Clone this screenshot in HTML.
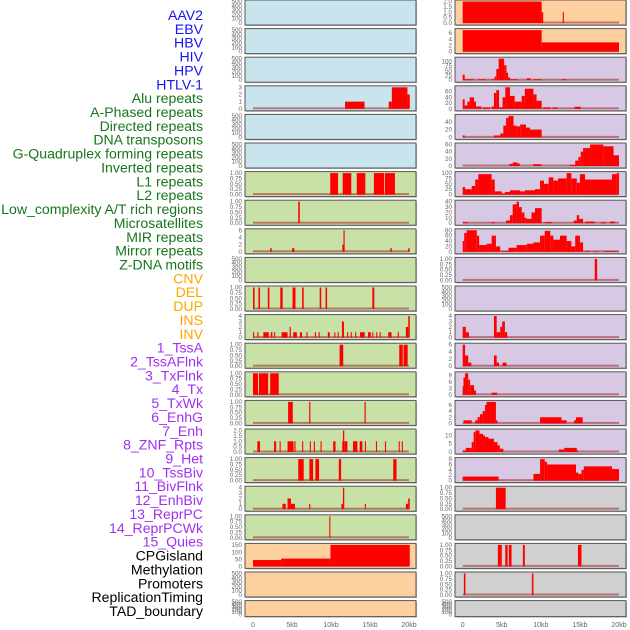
<!DOCTYPE html>
<html><head><meta charset="utf-8">
<style>
html,body{margin:0;padding:0;background:#fff;}
svg{display:block;}
text{font-family:"Liberation Sans",sans-serif;}
</style></head>
<body>
<svg id="chart" width="630" height="630" viewBox="0 0 630 630" xmlns="http://www.w3.org/2000/svg">
<g id="labels"></g>
<g id="panels"></g>
<g id="xaxes"></g>
</svg>
<script>
// ---- label data ----
const labelNames = ["AAV2","EBV","HBV","HIV","HPV","HTLV-1","Alu repeats","A-Phased repeats","Directed repeats","DNA transposons","G-Quadruplex forming repeats","Inverted repeats","L1 repeats","L2 repeats","Low_complexity A/T rich regions","Microsatellites","MIR repeats","Mirror repeats","Z-DNA motifs","CNV","DEL","DUP","INS","INV","1_TssA","2_TssAFlnk","3_TxFlnk","4_Tx","5_TxWk","6_EnhG","7_Enh","8_ZNF_Rpts","9_Het","10_TssBiv","11_BivFlnk","12_EnhBiv","13_ReprPC","14_ReprPCWk","15_Quies","CPGisland","Methylation","Promoters","ReplicationTiming","TAD_boundary"];
const labelGroups = [0,0,0,0,0,0,1,1,1,1,1,1,1,1,1,1,1,1,1,2,2,2,2,2,3,3,3,3,3,3,3,3,3,3,3,3,3,3,3,4,4,4,4,4];
const groupColors = ["#1515f0","#17761a","#ffa500","#a030f0","#000000"];

// ---- tick label sets ----
const T500 = ["0","100","200","300","400","500"];
const T01 = ["0.00","0.25","0.50","0.75","1.00"];
const T02 = ["0.0","0.5","1.0","1.5","2.0"];
const T3 = ["0","1","2","3"];
const T4 = ["0","1","2","3","4"];
const T6 = ["0","2","4","6"];
const T8 = ["0","2","4","6","8"];
const T150 = ["0","50","100","150"];
const T100 = ["0","25","50","75","100"];
const T60 = ["0","20","40","60"];
const T40 = ["0","20","40"];
const T40b = ["0","10","20","30","40"];
const T80 = ["0","20","40","60","80"];
const T9 = ["0","3","6","9"];
const T10 = ["0","5","10"];

// ---- segment data: [startKb, endKb, value] ----
const L4 = [[11.8,14.3,1],[17.4,17.8,1],[17.8,19.8,3],[19.8,20.1,2]];
const L7 = [[9.9,10.9,1],[11.5,12.6,1],[13.3,14.4,1],[15.5,16.8,1],[16.9,18.2,1]];
const L8 = [[5.8,6.0,1]];
const L9 = [[2.2,2.4,1],[5.0,5.3,1],[11.45,11.6,2],[11.6,11.75,6],[17.6,17.8,1],[19.9,20.1,1]];
const L11 = [[0,0.2,1],[0.7,0.9,1],[1.9,2.1,1],[3.5,3.8,1],[5.07,5.45,1],[6.3,6.5,1],[8.55,8.75,1],[9.3,9.5,1],[15.3,15.55,1]];
const L12 = [[0,0.15,1],[0.55,0.7,1],[1.33,2.02,1],[2.28,2.49,1],[2.7,2.85,1],[3.66,4.43,1],[4.7,4.85,2],[5.16,5.63,1],[6.02,6.28,1],[6.85,7.0,1],[7.93,8.08,1],[8.4,8.55,1],[9.59,9.85,1],[10.42,10.56,1],[10.85,11.0,1],[11.4,11.66,3],[12.06,12.2,1],[12.53,12.67,1],[13.1,13.24,1],[13.72,14.32,1],[14.75,15.1,1],[15.28,15.42,1],[15.8,15.94,1],[16.23,16.37,1],[17.33,17.76,1],[18.55,18.7,1],[19.6,19.9,2],[19.9,20.1,4]];
const L13 = [[11.1,11.57,1],[18.75,19.2,1],[19.3,19.83,1]];
const L14 = [[0,0.65,1],[0.77,1.94,1],[2.2,3.3,1]];
const L15 = [[4.5,5.1,1],[7.2,7.35,1],[14.3,14.45,1]];
const L16 = [[0.56,0.9,1],[2.7,2.97,1],[3.41,3.55,1],[4.43,5.2,1],[5.31,5.45,1],[6.3,6.44,1],[7.28,7.42,1],[7.8,7.94,1],[8.66,8.8,1],[10.28,10.58,1],[11.44,11.53,1],[11.53,11.7,2],[11.7,12.1,1],[12.82,13.38,1],[13.68,14.02,1],[14.34,14.48,1],[15.76,15.9,1],[16.92,17.06,1],[18.68,18.82,1],[19.07,19.21,1]];
const L17 = [[5.8,6.5,1],[7.23,7.7,1],[8.0,8.47,1],[11.0,11.3,1],[17.98,18.4,1]];
const L18 = [[3.78,4.2,1],[4.43,4.86,2],[4.86,5.38,1],[7.2,7.35,1],[11.33,11.53,1],[11.53,11.7,4],[14.34,14.48,1],[19.6,19.9,1],[19.9,20.1,2]];
const L19 = [[9.78,9.92,1]];
const L20 = [[0,3.6,45],[3.6,9.93,55],[9.93,20.1,152]];

const R1 = [[0,10.1,2],[10.1,10.3,1],[12.8,12.95,1]];
const R2 = [[0,10.1,7],[10.1,20.0,3]];
const R3 = [[0,0.25,30],[0.25,1.4,5],[2,3,5],[3.7,4.1,5],[4.1,4.3,20],[4.3,4.6,60],[4.6,5.3,115],[5.3,5.6,80],[5.6,5.8,40],[5.8,6.05,15],[6.05,7.05,5],[8.2,8.7,10],[9.1,10.1,5],[12.7,13.3,5]];
const R4 = [[0,0.25,33],[0.25,0.6,12],[0.6,0.9,25],[0.9,1.45,40],[1.45,1.7,25],[1.7,2.4,8],[2.6,3.5,5],[3.7,4.0,8],[4.0,4.3,55],[4.3,4.65,65],[4.65,5.1,5],[5.1,5.45,40],[5.45,6.05,75],[6.05,6.65,45],[6.65,7.55,25],[7.55,7.95,45],[7.95,9.05,70],[9.05,9.45,50],[9.45,10.1,28],[10.3,11.2,5],[11.5,12.1,5],[14.3,15.1,7]];
const R5 = [[0,0.25,5],[4.0,4.8,5],[4.8,5.2,10],[5.2,5.55,30],[5.55,5.85,50],[5.85,6.5,55],[6.5,6.9,30],[6.9,7.35,28],[7.35,8.1,33],[8.1,8.6,25],[8.6,10.1,20]];
const R6 = [[6.0,6.4,6],[6.4,7.0,10],[7.0,7.3,7],[9.0,10.1,5],[13.7,14.4,3],[14.4,14.8,15],[14.8,15.1,25],[15.1,15.4,40],[15.4,16.3,50],[16.3,18.0,60],[18.0,19.3,55],[19.3,20.0,30]];
const R7 = [[0,0.3,35],[0.3,1.15,25],[1.15,1.6,40],[1.6,2.0,70],[2.0,3.7,95],[3.7,4.1,70],[4.1,5.0,15],[5.0,5.4,5],[5.4,6.05,12],[6.05,7.35,20],[7.35,7.95,15],[7.95,9.25,20],[9.25,9.9,25],[9.9,10.4,65],[10.4,11.0,50],[11.0,11.6,80],[11.6,12.2,65],[12.2,13.3,75],[13.3,13.9,100],[13.9,14.6,75],[14.6,15.0,55],[15.0,15.65,95],[15.65,19.1,70],[19.1,19.7,95],[19.7,20.0,100]];
const R8 = [[0,0.7,2],[3.7,4.1,2],[5.55,6.05,5],[6.05,6.4,15],[6.4,6.9,35],[6.9,7.2,40],[7.2,7.55,30],[7.55,7.9,20],[7.9,8.2,10],[8.2,8.8,8],[8.8,9.25,20],[9.25,10.1,28],[10.5,11.4,2],[14.2,14.6,5],[14.6,14.9,15],[14.9,15.4,8],[15.65,16.9,3],[17.7,18.3,2],[18.85,19.5,3]];
const R9 = [[0,0.2,40],[0.2,0.5,70],[0.5,1.8,80],[1.8,2.1,60],[2.1,3.05,25],[3.05,3.7,30],[3.7,4.25,60],[4.25,4.8,20],[5.0,5.85,3],[5.85,6.9,15],[6.9,8.2,25],[8.2,9.05,30],[9.05,9.9,35],[9.9,10.5,60],[10.5,11.2,78],[11.2,11.6,60],[11.6,12.45,45],[12.45,13.3,60],[13.3,13.9,40],[13.9,14.4,20],[14.4,15.0,60],[15.0,15.4,35],[15.65,16.3,3],[16.7,17.4,2],[18.1,19.7,3],[19.7,20.0,2]];
const R10 = [[16.9,17.2,1]];
const R12 = [[0,0.4,2],[0.4,0.8,1],[4.0,4.35,4],[4.35,4.8,1],[4.8,5.05,2],[5.05,5.4,3],[5.4,5.7,1]];
const R13 = [[0,0.3,6],[0.3,0.7,3],[0.7,1.1,1],[4.0,4.35,3],[4.35,4.65,1],[5.1,5.6,1]];
const R14 = [[0,0.1,4],[0.1,0.3,8],[0.3,0.7,10],[0.7,0.95,7],[0.95,1.45,4.5],[1.45,1.7,2],[3.7,4.4,1]];
const R15 = [[0.1,1.15,1],[1.6,1.9,1],[1.9,2.2,2],[2.2,2.55,3],[2.55,2.85,4],[2.85,3.05,6],[3.05,4.25,7],[4.25,4.45,1],[9.9,12.65,2],[12.65,13.3,1],[14.25,14.5,1],[14.5,15.35,2]];
const R16 = [[0,0.4,1],[0.4,1.15,2.5],[1.15,1.4,6],[1.4,1.6,12],[1.6,2.15,13],[2.15,2.6,11],[2.6,2.85,10],[2.85,3.3,9],[3.3,4.0,8],[4.0,4.45,6],[4.45,4.75,4],[4.75,5.2,2],[12.3,13.0,1.5],[13.0,14.6,2.5],[14.6,14.75,1]];
const R17 = [[0,4.6,1.5],[9.05,9.9,2.5],[9.9,10.5,8],[10.5,10.8,7],[10.8,14.5,6],[14.5,14.8,3],[14.8,15.2,2.5],[15.2,15.5,4],[15.5,19.1,5.3],[19.1,20.0,4.3]];
const R18 = [[4.25,5.5,1]];
const R20 = [[4.5,5.0,1],[5.45,5.75,1],[5.9,6.25,1],[7.7,7.95,1],[14.75,15.2,1]];
const R21 = [[0.15,0.35,1],[8.85,9.05,1]];

// ---- x axis ticks ----
const xTickVals = [0,5,10,15,20];
const xTickLabels = ["0","5kb","10kb","15kb","20kb"];

const BLUE="#c8e4ec", GREEN="#c8e1a6", ORANGE="#fed09f", PURPLE="#d7c8e3", GREY="#d0d0d0";
const leftPanels = [
 [BLUE,T500,[]],[BLUE,T500,[]],[BLUE,T500,[]],[BLUE,T3,L4],[BLUE,T500,[]],[BLUE,T500,[]],
 [GREEN,T01,L7],[GREEN,T01,L8],[GREEN,T6,L9],[GREEN,T500,[]],[GREEN,T01,L11],[GREEN,T4,L12],
 [GREEN,T01,L13],[GREEN,T01,L14],[GREEN,T01,L15],[GREEN,T02,L16],[GREEN,T01,L17],[GREEN,T4,L18],
 [GREEN,T01,L19],[ORANGE,T150,L20],[ORANGE,T500,[]],[ORANGE,T500,[]]
];
const rightPanels = [
 [ORANGE,T02,R1],[ORANGE,T6,R2],[PURPLE,T100,R3],[PURPLE,T60,R4],[PURPLE,T40,R5],[PURPLE,T60,R6],
 [PURPLE,T100,R7],[PURPLE,T40b,R8],[PURPLE,T80,R9],[PURPLE,T01,R10],[PURPLE,T500,[]],[PURPLE,T4,R12],
 [PURPLE,T6,R13],[PURPLE,T9,R14],[PURPLE,T6,R15],[PURPLE,T10,R16],[PURPLE,T8,R17],[GREY,T01,R18],
 [GREY,T500,[]],[GREY,T01,R20],[GREY,T01,R21],[GREY,T500,[]]
];

const NS="http://www.w3.org/2000/svg";
function mk(tag, attrs, parent){
  const e=document.createElementNS(NS,tag);
  for(const k in attrs) e.setAttribute(k,attrs[k]);
  parent.appendChild(e); return e;
}

// labels
const lg=document.getElementById('labels');
labelNames.forEach((name,i)=>{
  const t=mk('text',{x:203,y:20+i*13.86,'text-anchor':'end','font-size':'14.1',fill:groupColors[labelGroups[i]]},lg);
  
  
  t.textContent=name;
});

const cols=[{px:245,pw:171,x0:253,x1:409,list:leftPanels,name:'left'},{px:455,pw:171,x0:462.7,x1:619,list:rightPanels,name:'right'}];
const pg=document.getElementById('panels');
cols.forEach(col=>{
  const xs=kb=>col.x0+(kb/20)*(col.x1-col.x0);
  col.list.forEach((p,i)=>{
    const top=i*28.6, h=(i===21)?16:25;
    const g=mk('g',{},pg);
    
    
    mk('rect',{x:col.px+1,y:top+1,width:col.pw,height:h,fill:'#bbb'},g);
    const bg=mk('rect',{x:col.px,y:top,width:col.pw,height:h,fill:p[0],stroke:'#555','stroke-width':1},g);
    
    
    const ticks=p[1].map(parseFloat);
    const dmax=Math.max(0,...p[2].map(s=>s[2]));
    const ymax=Math.max(ticks[ticks.length-1],dmax);
    const yb=top+h-2, yt=top+1.5;
    const ys=v=>yb-(v/ymax)*(yb-yt);
    p[1].forEach((lab,k)=>{
      const t=mk('text',{x:col.px-3,y:ys(ticks[k])+2,'text-anchor':'end','font-size':'6.3',fill:'#666'},g);
      
      
      t.textContent=lab;
    });
    if(p[1]!==T500 || p[2].length){
      mk('rect',{x:xs(0),y:yb-1.5,width:xs(20)-xs(0),height:2,fill:'rgba(160,40,40,0.55)'},g);
    }
    p[2].forEach(s=>{
      const r=mk('rect',{x:xs(s[0]),y:ys(s[2]),width:Math.max(1,xs(s[1])-xs(s[0])),height:yb-ys(s[2]),fill:'#ff0000'},g);
      
      
    });
  });
  const xg=document.getElementById('xaxes');
  xTickVals.forEach((v,k)=>{
    const t=mk('text',{x:xs(v),y:627,'text-anchor':'middle','font-size':'7',fill:'#666'},xg);
    
    
    t.textContent=xTickLabels[k];
  });
});
</script>
</body></html>
